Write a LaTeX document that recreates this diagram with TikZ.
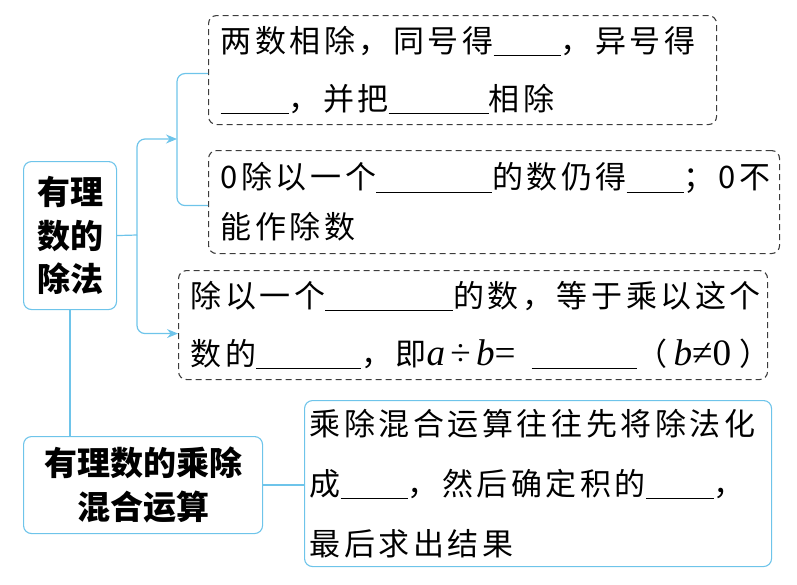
\documentclass[tikz,border=0pt]{standalone}
\usepackage{fontspec}
\usepackage{tikz}
\usetikzlibrary{arrows.meta}
\setmainfont{Noto Sans CJK SC}[LetterSpace=11.5]
\newfontfamily\titlefont{Noto Sans CJK SC}
\newfontfamily\latinfont{Liberation Serif}[Scale=1.2]
\definecolor{mapblue}{RGB}{110,196,234}
\definecolor{dashgray}{RGB}{60,60,60}
\newcommand\fillin[1]{\rule[-4pt]{#1pt}{1.2pt}}
\newcommand\var[1]{{\latinfont\itshape #1}}
\tikzset{
    textbox/.style = {anchor=north west, align=left, inner xsep=12pt, inner ysep=0pt, rounded corners=8pt, font=\fontsize{31}{58}\selectfont},
    dash_box/.style = {textbox, draw=dashgray, line width=1.1pt, dash pattern=on 6pt off 4pt},
    blue_box/.style = {textbox, draw=mapblue, line width=1.1pt},
    title_box/.style = {anchor=north west, align=center, inner sep=0pt, draw=mapblue, line width=1.1pt, rounded corners=8pt, font=\titlefont\bfseries\fontsize{33}{43.5}\selectfont},
    link/.style = {draw=mapblue, line width=1.2pt, rounded corners=8pt},
    tip/.style = {-{Stealth[length=11pt,width=9pt]}}
}

\begin{document}
\begin{tikzpicture}[x=1pt, y=-1pt]
    \useasboundingbox (0,0) rectangle (797,584);

    % left titles
    \node [title_box, minimum width=93pt, minimum height=148pt] (div) at (23,161) {有理\\数的\\除法};
    \node [title_box, minimum width=239pt, minimum height=97pt] (mix) at (23,436) {有理数的乘除\\混合运算};

    % rule boxes
    \node [dash_box, minimum width=508pt, minimum height=109pt, text width=484pt] (box1) at (208,15)
        {两数相除，同号得\fillin{67}，异号得\\\fillin{68}，并把\fillin{100}相除};
    \node [dash_box, minimum width=571pt, minimum height=103pt, text width=547pt, font=\fontsize{31}{50}\selectfont] (box2) at (208,150)
        {0除以一个\fillin{116}的数仍得\fillin{57}；0不\\能作除数};
    \node [dash_box, minimum width=589pt, minimum height=109pt, text width=565pt] (box3) at (178,270)
        {除以一个\fillin{128}的数，等于乘以这个\\\mbox{数的\fillin{105}，即\var{a}\,{\latinfont ÷}\,\var{b}{\latinfont =}\hspace{16pt}\fillin{105}（\hspace{6pt}\var{b}{\latinfont ≠0}\hspace{8pt}）}};
    \node [blue_box, minimum width=467pt, minimum height=166pt, text width=457pt, inner xsep=5pt, font=\fontsize{31}{60}\selectfont] (box4) at (304,400)
        {乘除混合运算往往先将除法化\\成\fillin{67}，然后确定积的\fillin{68}，\\最后求出结果};

    % connectors
    \coordinate (fork) at (137,235);
    \coordinate (brk) at (177,139);
    \draw [link] (div.east) -- (fork);
    \draw [link, tip] (fork) |- (brk);
    \draw [link, tip] (fork) |- ([yshift=-8.5pt]box3.west);
    \draw [link] ([yshift=-3.5pt]box1.west) -| (brk) |- ([yshift=-3.5pt]box2.west);
    \draw [link] (div.south) -- (div.south |- mix.north);
    \draw [link] (mix.east) -- (mix.east -| box4.west);
\end{tikzpicture}
\end{document}
